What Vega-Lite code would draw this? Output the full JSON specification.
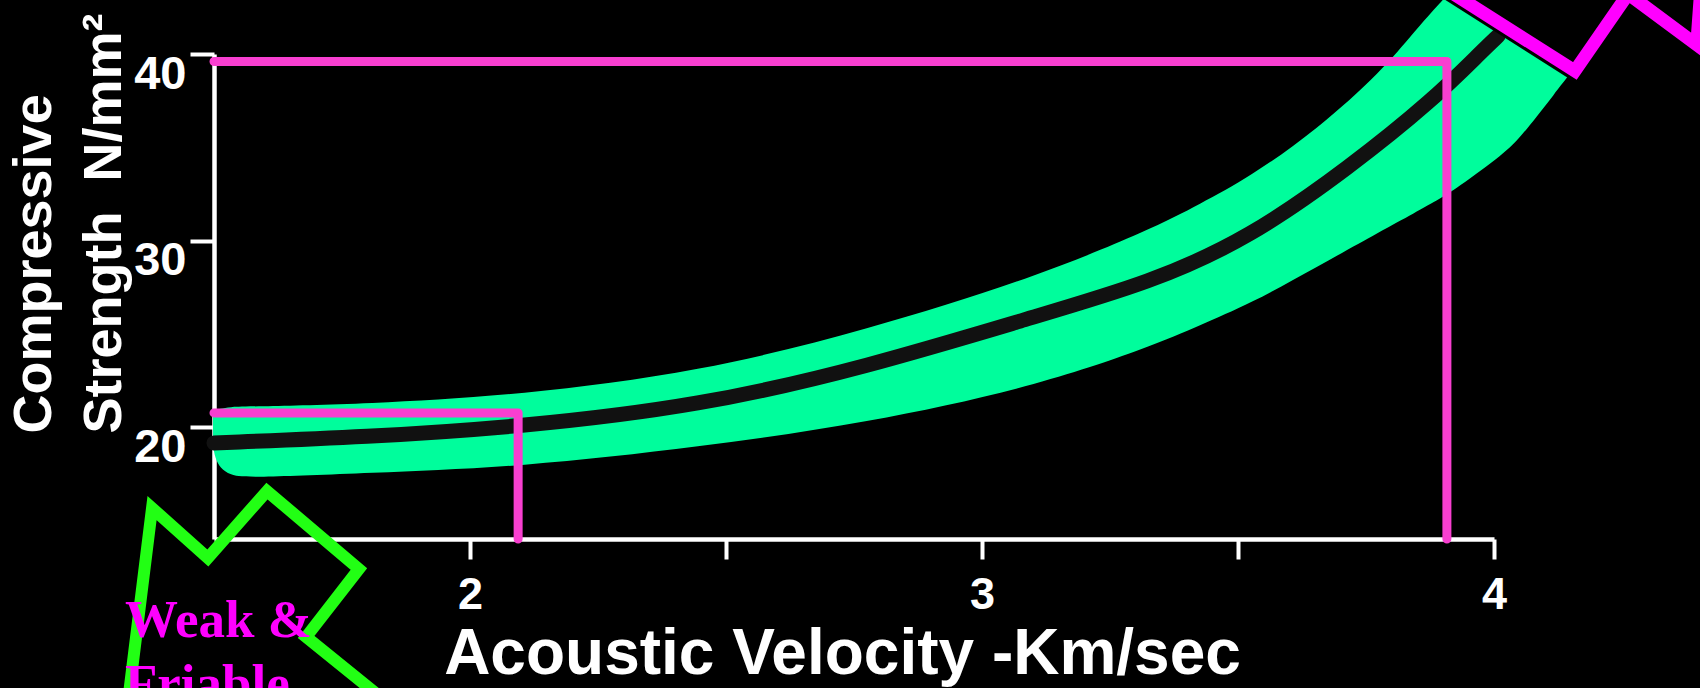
{
  "$schema": "https://vega.github.io/schema/vega-lite/v6.json",
  "width": 1280,
  "height": 485,
  "autosize": {"type": "none"},
  "padding": {"left": 214, "top": 54, "right": 206, "bottom": 149},
  "background": "#000000",
  "config": {"view": {"stroke": null}},
  "datasets": {
    "band": [
      {"v": 1.498, "s": 19.04, "s2": 20.86},
      {"v": 1.502, "s": 18.34, "s2": 20.92},
      {"v": 1.512, "s": 17.81, "s2": 20.97},
      {"v": 1.531, "s": 17.43, "s2": 21.08},
      {"v": 1.564, "s": 17.27, "s2": 21.10},
      {"v": 1.799, "s": 17.54, "s2": 21.24},
      {"v": 2.098, "s": 17.86, "s2": 21.72},
      {"v": 2.449, "s": 18.93, "s2": 22.95},
      {"v": 2.775, "s": 20.22, "s2": 25.21},
      {"v": 3.100, "s": 22.15, "s2": 27.99},
      {"v": 3.328, "s": 24.29, "s2": 30.57},
      {"v": 3.426, "s": 25.47, "s2": 31.96},
      {"v": 3.523, "s": 26.60, "s2": 33.41},
      {"v": 3.654, "s": 28.58, "s2": 35.93},
      {"v": 3.783, "s": 30.57, "s2": 39.15},
      {"v": 3.842, "s": 31.43, "s2": 41.13},
      {"v": 3.900, "s": 32.34, "s2": 42.90},
      {"v": 3.914, "s": 32.55, "s2": 43.33},
      {"v": 4.012, "s": 34.48, "s2": 46.39},
      {"v": 4.051, "s": 35.50, "s2": 47.62},
      {"v": 4.109, "s": 37.54, "s2": 49.44},
      {"v": 4.207, "s": 41.02, "s2": 52.55}
    ],
    "center": [
      {"v": 1.5, "s": 19.15},
      {"v": 1.799, "s": 19.47},
      {"v": 2.098, "s": 20.01},
      {"v": 2.449, "s": 21.13},
      {"v": 2.775, "s": 23.22},
      {"v": 3.100, "s": 25.90},
      {"v": 3.328, "s": 27.73},
      {"v": 3.523, "s": 30.14},
      {"v": 3.719, "s": 33.95},
      {"v": 3.881, "s": 37.54},
      {"v": 3.979, "s": 40.22},
      {"v": 4.008, "s": 40.97}
    ],
    "guides": [
      {"g": "weak", "i": 0, "v": 1.5, "s": 20.76},
      {"g": "weak", "i": 1, "v": 2.094, "s": 20.76},
      {"g": "weak", "i": 2, "v": 2.094, "s": 14.0},
      {"g": "strong", "i": 0, "v": 1.5, "s": 39.6},
      {"g": "strong", "i": 1, "v": 3.908, "s": 39.6},
      {"g": "strong", "i": 2, "v": 3.908, "s": 14.0}
    ],
    "burst": [
      {"i": 0, "v": 3.816, "s": 45.05},
      {"i": 1, "v": 4.158, "s": 39.09},
      {"i": 2, "v": 4.262, "s": 43.22},
      {"i": 3, "v": 4.396, "s": 40.49},
      {"i": 4, "v": 4.408, "s": 45.05},
      {"i": 5, "v": 3.816, "s": 45.05}
    ],
    "star": [
      {"i": 0, "v": 1.318, "s": 2.15},
      {"i": 1, "v": 1.379, "s": 15.66},
      {"i": 2, "v": 1.488, "s": 12.98},
      {"i": 3, "v": 1.6035, "s": 16.57},
      {"i": 4, "v": 1.783, "s": 12.39},
      {"i": 5, "v": 1.680, "s": 8.75},
      {"i": 6, "v": 1.977, "s": 2.15},
      {"i": 7, "v": 1.318, "s": 2.15}
    ],
    "label": [
      {"v": 1.326, "s": 8.745, "t": "Weak &\nFriable"}
    ]
  },
  "encoding": {
    "x": {
      "field": "v",
      "type": "quantitative",
      "scale": {"domain": [1.5, 4], "nice": false, "zero": false},
      "axis": {
        "values": [2, 2.5, 3, 3.5, 4],
        "labelExpr": "datum.value % 1 === 0 ? format(datum.value, 'd') : ''",
        "grid": false,
        "domainColor": "#ffffff",
        "domainWidth": 4.5,
        "tickColor": "#ffffff",
        "tickWidth": 4,
        "tickSize": 20,
        "labelColor": "#ffffff",
        "labelFont": "Liberation Sans",
        "labelFontSize": 45,
        "labelFontWeight": "bold",
        "labelPadding": 13,
        "labelFlush": false,
        "labelOverlap": false,
        "title": "Acoustic Velocity -Km/sec",
        "titleColor": "#ffffff",
        "titleFont": "Liberation Sans",
        "titleFontSize": 64,
        "titleFontWeight": "bold",
        "titleX": 628,
        "titleY": 134,
        "titleAlign": "center",
        "titleBaseline": "alphabetic"
      }
    },
    "y": {
      "field": "s",
      "type": "quantitative",
      "scale": {"domain": [14, 40], "nice": false, "zero": false},
      "axis": {
        "values": [20, 30, 40],
        "grid": false,
        "domainColor": "#ffffff",
        "domainWidth": 4.5,
        "tickColor": "#ffffff",
        "tickWidth": 4,
        "tickSize": 24,
        "labelColor": "#ffffff",
        "labelFont": "Liberation Sans",
        "labelFontSize": 47,
        "labelFontWeight": "bold",
        "labelPadding": 4,
        "labelOffset": 20,
        "labelBaseline": "middle",
        "labelFlush": false,
        "labelOverlap": false,
        "title": ["Compressive", "Strength\u00a0\u00a0N/mm²"],
        "titleColor": "#ffffff",
        "titleFont": "Liberation Sans",
        "titleFontSize": 54,
        "titleFontWeight": "bold",
        "titleAngle": 270,
        "titleAlign": "left",
        "titleBaseline": "top",
        "titleLineHeight": 70,
        "titleX": -207,
        "titleY": 379
      }
    }
  },
  "layer": [
    {
      "data": {"name": "band"},
      "mark": {"type": "area", "color": "#00fd9c", "interpolate": "basis", "clip": false},
      "encoding": {"y2": {"field": "s2"}}
    },
    {
      "data": {"name": "center"},
      "mark": {"type": "line", "color": "#111111", "strokeWidth": 15, "strokeCap": "round", "interpolate": "basis", "clip": false},
      "encoding": {}
    },
    {
      "data": {"name": "guides"},
      "mark": {"type": "line", "color": "#f83fd0", "strokeWidth": 9, "strokeCap": "round", "strokeJoin": "round", "clip": false},
      "encoding": {
        "detail": {"field": "g", "type": "nominal"},
        "order": {"field": "i", "type": "quantitative"}
      }
    },
    {
      "data": {"name": "burst"},
      "mark": {"type": "line", "stroke": "#000000", "fill": "#000000", "strokeWidth": 19, "strokeJoin": "miter", "clip": false},
      "encoding": {"order": {"field": "i", "type": "quantitative"}}
    },
    {
      "data": {"name": "burst"},
      "mark": {"type": "line", "stroke": "#ff00ff", "strokeWidth": 13, "strokeJoin": "miter", "clip": false},
      "encoding": {"order": {"field": "i", "type": "quantitative"}}
    },
    {
      "data": {"name": "star"},
      "mark": {"type": "line", "stroke": "#22ff14", "strokeWidth": 12, "strokeJoin": "miter", "clip": false},
      "encoding": {"order": {"field": "i", "type": "quantitative"}}
    },
    {
      "data": {"name": "label"},
      "mark": {"type": "text", "color": "#ff00ff", "font": "Liberation Serif", "fontWeight": "bold", "fontSize": 53, "align": "left", "baseline": "alphabetic", "lineBreak": "\n", "lineHeight": 64, "clip": false},
      "encoding": {"text": {"field": "t", "type": "nominal"}}
    }
  ]
}
